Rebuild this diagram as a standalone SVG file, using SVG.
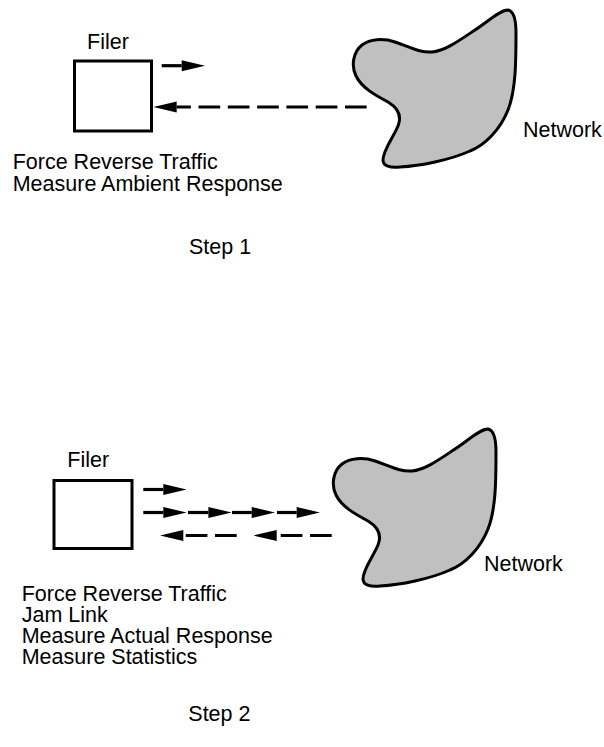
<svg xmlns="http://www.w3.org/2000/svg" width="604" height="747" viewBox="0 0 604 747">
  <style>
    text { font-family: "Liberation Sans", Arial, Helvetica, sans-serif; font-size: 21.5px; fill: #000; }
    .box { fill: #fff; stroke: #000; stroke-width: 3; }
    .blob { fill: #c0c0c0; stroke: #000; stroke-width: 3; stroke-linejoin: round; }
    .arr { fill: none; stroke: #000; stroke-width: 3.2; marker-end: url(#ah); }
    .dash { stroke-dasharray: 21.7 7.6; }
  </style>
  <defs>
    <marker id="ah" markerUnits="userSpaceOnUse" markerWidth="24" markerHeight="12" refX="0" refY="0" orient="auto" overflow="visible">
      <path d="M0,-5.5 L23.3,0 L0,5.5 Z" fill="#000"/>
    </marker>
    <path id="blobshape" d="M508,10 C513,11 516,18 516,33 C516,60 516,90 508,110 C500,130 485,145 470,151 C450,160 420,166 400,167 C390,168 383,166 383,160 C383,150 393,138 398,126 C402,116 398,108 388,102 C375,95 362,88 356,76 C351,66 353,52 362,45 C370,39 383,38 395,42 C410,47 420,53 432,52 C445,51 460,40 475,30 C490,20 500,10 508,10 Z"/>
  </defs>

  <!-- Step 1 -->
  <g id="filer1">
    <rect class="box" x="74.5" y="61" width="77" height="70"/>
    <text x="87" y="49">Filer</text>
  </g>
  <g id="network1">
    <use href="#blobshape" class="blob"/>
    <text x="523" y="137">Network</text>
  </g>
  <g id="notes1">
    <text x="12.7" y="169.3">Force Reverse Traffic</text>
    <text x="12.7" y="190.7">Measure Ambient Response</text>
  </g>
  <g id="step1">
    <text x="189" y="254">Step 1</text>
  </g>

  <!-- Step 2 -->
  <g id="filer2">
    <rect class="box" x="54" y="480.5" width="78" height="68"/>
    <text x="67.3" y="467">Filer</text>
  </g>
  <g id="network2">
    <use href="#blobshape" class="blob" transform="translate(-20,419)"/>
    <text x="484" y="570.5">Network</text>
  </g>
  <g id="notes2">
    <text x="21.7" y="601">Force Reverse Traffic</text>
    <text x="21.7" y="622">Jam Link</text>
    <text x="21.7" y="643">Measure Actual Response</text>
    <text x="21.7" y="664">Measure Statistics</text>
  </g>
  <g id="step2">
    <text x="188.3" y="721">Step 2</text>
  </g>

  <g id="connectors">
    <path class="arr" d="M161.7,65.7 L181.7,65.7"/>
    <path class="arr dash" d="M366.7,107 L176.7,107"/>

    <path class="arr" d="M143.3,489.5 L163.3,489.5"/>
    <path class="arr" d="M143.3,512.5 L163.3,512.5"/>
    <path class="arr" d="M188,512.5 L208.4,512.5"/>
    <path class="arr" d="M232,512.5 L251.7,512.5"/>
    <path class="arr" d="M277,512.5 L296.7,512.5"/>
    <path class="arr dash" d="M236.7,535.5 L183.3,535.5"/>
    <path class="arr dash" d="M331.7,535.5 L276.7,535.5"/>
  </g>
</svg>
